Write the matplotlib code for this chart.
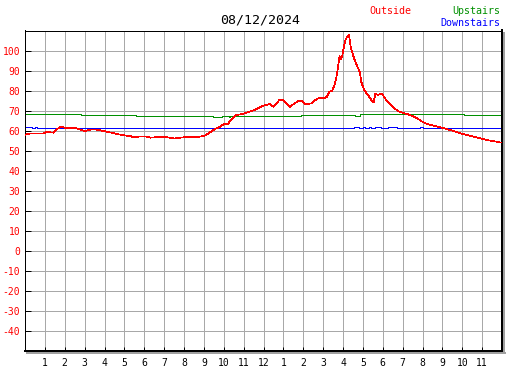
import matplotlib
matplotlib.use("Agg")
import matplotlib.pyplot as plt
from matplotlib.lines import Line2D

title = "08/12/2024"
y_ticks = list(range(-40, 101, 10))
x_tick_hours = list(range(1, 24))
x_tick_labels = [str(h) for h in range(1, 13)] + [str(h) for h in range(1, 12)]

outside_t = [0.0, 0.25, 0.9, 1.1, 1.45, 1.6, 1.76, 2.0, 2.5, 2.77, 3.0, 3.27, 3.6, 3.86,
             4.2, 4.53, 4.87, 5.29, 5.5, 5.75, 6.08, 6.33, 6.66, 7.08, 7.5, 8.09, 8.59,
             8.85, 9.1, 9.35, 9.6, 9.77, 10.02, 10.19, 10.36, 10.61, 10.94, 11.28, 11.61,
             11.95, 12.2, 12.34, 12.5, 12.67, 12.79, 13.0, 13.17, 13.34, 13.51, 13.76,
             13.93, 14.1, 14.43, 14.6, 14.85, 15.02, 15.19, 15.31, 15.45, 15.55, 15.66,
             15.75, 15.83, 15.88, 15.95, 16.03, 16.12, 16.22, 16.3, 16.39, 16.5, 16.59,
             16.76, 16.84, 16.92, 17.06, 17.26, 17.43, 17.54, 17.63, 17.76, 17.9, 18.01,
             18.18, 18.35, 18.6, 18.77, 19.0, 19.25, 19.5, 19.75, 20.0, 20.25, 20.6,
             20.93, 21.27, 21.6, 21.94, 22.27, 22.6, 22.94, 23.27, 23.6, 23.93]
outside_v = [58.0, 58.6, 58.6, 59.3, 59.0, 60.5, 62.0, 61.5, 61.4, 60.6, 59.7, 60.5, 60.5, 60.0,
             59.3, 58.6, 57.8, 57.3, 56.6, 57.1, 57.1, 56.5, 56.8, 56.8, 56.1, 56.8, 56.8,
             57.1, 57.75, 59.4, 61.1, 61.7, 63.4, 63.2, 65.2, 67.8, 68.3, 69.4, 70.6,
             72.4, 73.0, 73.25, 71.9, 73.6, 75.25, 75.25, 73.6, 71.9, 73.25, 74.9,
             74.9, 73.25, 73.6, 75.25, 76.6, 76.0, 76.9, 79.4, 79.9, 82.25, 86.1,
             91.9, 97.25, 95.6, 96.6, 101.1, 105.25, 106.9, 107.75, 101.9, 97.75, 95.25,
             91.1, 89.4, 84.4, 80.25, 77.75, 75.25, 74.0, 78.6, 77.75, 78.6, 77.75,
             75.25, 73.6, 71.1, 69.75, 68.9, 68.25, 67.25, 66.1, 64.4, 63.25, 62.4,
             61.6, 60.6, 59.75, 58.6, 57.75, 56.9, 56.1, 55.25, 54.75, 54.1]

upstairs_t = [0, 2.8, 5.45, 5.6, 9.45, 9.9, 10.25, 10.3, 13.9, 16.6, 16.85, 22.1, 22.2, 22.3, 23.9]
upstairs_v = [68.1, 67.6, 67.9, 67.1, 66.6, 67.1, 66.6, 67.1, 67.6, 67.3, 68.1, 67.6, 67.9, 67.6, 67.6]

downstairs_t = [0, 0.33, 0.5, 0.62, 16.55, 16.8, 17.0, 17.1, 17.3, 17.4, 17.6, 17.9,
                18.25, 18.7, 19.85, 20.0, 23.9]
downstairs_v = [61.6, 61.1, 61.6, 61.1, 61.6, 61.1, 61.6, 61.1, 61.6, 61.1, 61.6, 61.1,
                61.6, 61.1, 61.6, 61.1, 61.1]

W, H = 527, 370
PX = 0.72  # one pixel in points
fig = plt.figure(figsize=(W / 100, H / 100), dpi=100)
fig.patch.set_facecolor("white")
L, R, T, B = 25, 502, 30.5, 351
ax = fig.add_axes([L / W, 1 - B / H, (R - L) / W, (B - T) / H])
ax.set_xlim(0, 24)
ax.set_ylim(-50, 110)

grid_c = "#a8a8a8"
for h in range(1, 24):
    ax.axvline(h, color=grid_c, lw=PX, antialiased=False, zorder=1)
for y in range(-40, 110, 10):
    ax.axhline(y, color=grid_c, lw=PX, antialiased=False, zorder=1)

ax.plot(outside_t, outside_v, color="#ff0000", lw=0.5, antialiased=False, zorder=3)
ax.plot(upstairs_t, upstairs_v, color="#009000", lw=PX, drawstyle="steps-post",
        antialiased=False, zorder=2)
ax.plot(downstairs_t, downstairs_v, color="#0000ff", lw=PX, drawstyle="steps-post",
        antialiased=False, zorder=2)

mono = "DejaVu Sans Mono"
ax.set_yticks(y_ticks)
ax.set_yticklabels([str(v) for v in y_ticks], fontfamily=mono, fontsize=7, color="#ff0000")
ax.set_xticks(x_tick_hours)
ax.set_xticklabels(x_tick_labels, fontfamily=mono, fontsize=7, color="black")
ax.tick_params(axis="y", direction="in", length=4, width=PX, color="black", pad=3.5)
ax.tick_params(axis="x", direction="in", length=3, width=PX, color="black", pad=5)

for s in ax.spines.values():
    s.set_color("black")
    s.set_linewidth(PX)
ax.spines["right"].set_linewidth(2 * PX)
ax.spines["bottom"].set_linewidth(2 * PX)

# shadow
fig.add_artist(Line2D([(L + 2) / W, (R + 3) / W], [1 - (B + 2) / H, 1 - (B + 2) / H],
                      color="#a0a0a0", lw=2 * PX, transform=fig.transFigure))
fig.add_artist(Line2D([(R + 2) / W, (R + 2) / W], [1 - (T + 2) / H, 1 - (B + 2) / H],
                      color="#a0a0a0", lw=2 * PX, transform=fig.transFigure))

fig.text(260.5 / W, 1 - 20 / H, title, ha="center", va="center", fontfamily=mono,
         fontsize=9.5, color="black")
fig.text(369 / W, 1 - 11 / H, "Outside", ha="left", va="center", fontfamily=mono,
         fontsize=7.2, color="#ff0000")
fig.text(500 / W, 1 - 11 / H, "Upstairs", ha="right", va="center", fontfamily=mono,
         fontsize=7.2, color="#009000")
fig.text(500 / W, 1 - 23 / H, "Downstairs", ha="right", va="center", fontfamily=mono,
         fontsize=7.2, color="#0000ff")

fig.savefig("out.png", dpi=100, facecolor="white")
